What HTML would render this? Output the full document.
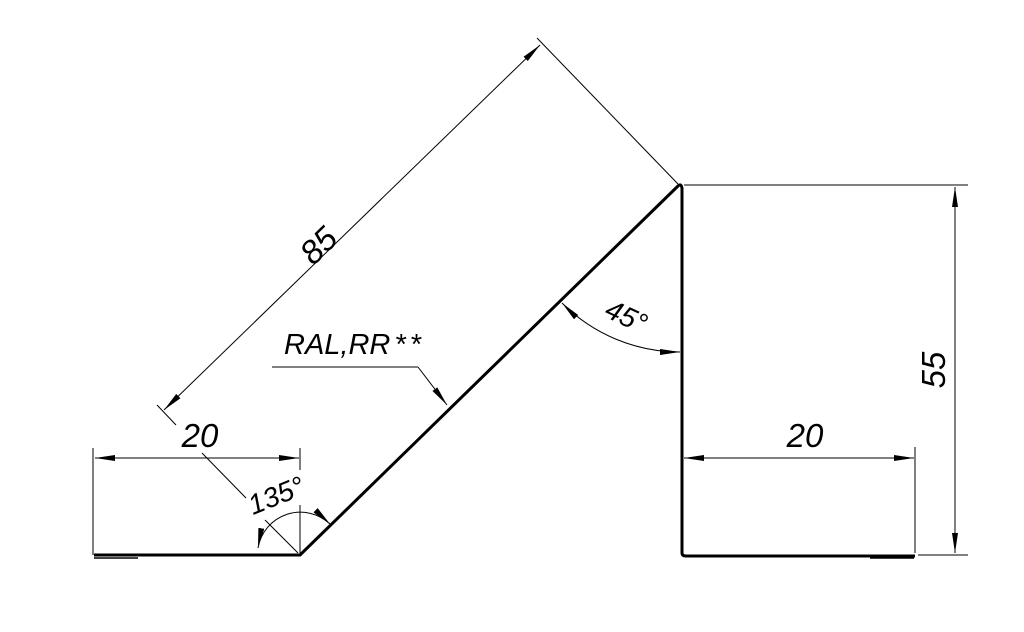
<!DOCTYPE html>
<html><head><style>html,body{margin:0;padding:0;background:#fff}svg{display:block}</style></head>
<body>
<svg width="1024" height="632" viewBox="0 0 1024 632" xmlns="http://www.w3.org/2000/svg">
<defs>
<marker id="a" viewBox="0 0 20 6" refX="20" refY="3" markerWidth="20" markerHeight="6" markerUnits="userSpaceOnUse" orient="auto-start-reverse">
<path d="M0,0 L20,3 L0,6 Z" fill="#000"/></marker>
</defs>
<g fill="none" stroke="#000">
<path d="M94,555 L300,555 L678,186 Q681,183 682,188 L682,553 Q682,556 686,556 L915,556" stroke-width="3" stroke-linejoin="round"/>
<path d="M94,558 L138,558" stroke-width="1.5"/>
<path d="M870,558 L914,558" stroke-width="1.5"/>
<g stroke-width="1">
<path d="M93,448 L93,555"/>
<path d="M300,448 L300,470 M300,505 L300,553"/>
<path d="M915,447 L915,553"/>
<path d="M684,185 L968,185"/>
<path d="M918,555 L968,555"/>
<path d="M678,184 L537,38"/>
<path d="M157,405 L176,425 M202,453 L246,498 M265,520 L298,553"/>
<path d="M272,367 L418,367"/>
</g>
<g stroke-width="1" marker-start="url(#a)" marker-end="url(#a)">
<path d="M95,458 L299,458"/>
<path d="M684,458 L914,458"/>
<path d="M955,187 L955,553"/>
<path d="M164,410 L540,45"/>
<path d="M562,303 A167,167 0 0 0 680,352"/>
<path d="M258,548 A43,43 0 0 1 330,524"/>
</g>
<path d="M418,367 L447,405" stroke-width="1" marker-end="url(#a)"/>
</g>
<g font-family="Liberation Sans Narrow, Liberation Sans, sans-serif" font-style="italic" fill="#000" font-size="33">
<text x="318" y="257" transform="rotate(-44.2 318 245)" text-anchor="middle">85</text>
<text x="200" y="447" text-anchor="middle">20</text>
<text x="805" y="447" text-anchor="middle">20</text>
<text x="945" y="370" transform="rotate(-90 945 370)" text-anchor="middle">55</text>
<text x="284" y="354" font-size="29">RAL,RR<tspan dx="4">*</tspan><tspan dx="4">*</tspan></text>
<text x="276" y="505" font-size="28" transform="rotate(-22 276 495)" text-anchor="middle">135°</text>
<text x="627" y="326" font-size="28" transform="rotate(25 627 315)" text-anchor="middle">45°</text>
</g>
</svg>
</body></html>
